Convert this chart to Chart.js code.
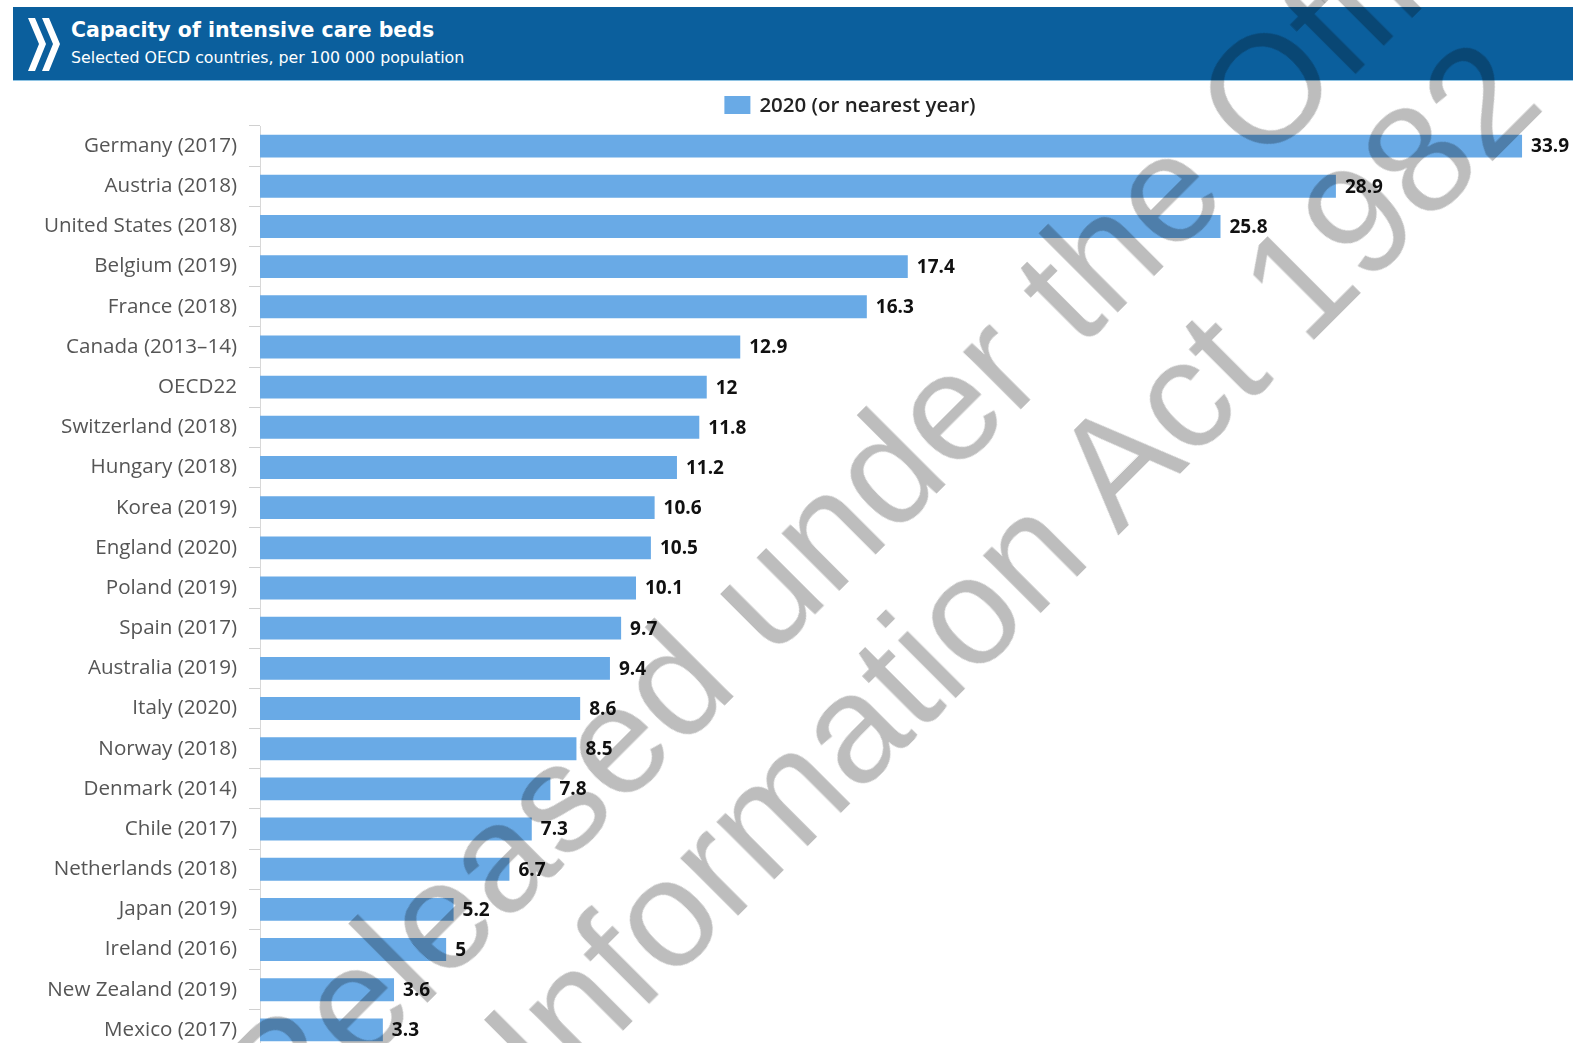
<!DOCTYPE html>
<html>
<head>
<meta charset="utf-8">
<title>Capacity of intensive care beds</title>
<script src="https://cdn.jsdelivr.net/npm/chart.js@4.4.1/dist/chart.umd.min.js"></script>
<style>
  html, body { margin: 0; padding: 0; width: 1573px; height: 1043px; overflow: hidden; background: #fff; }
  body { position: relative; font-family: "Open Sans", sans-serif; }
  .header {
    position: absolute; left: 13px; top: 7px; width: 1560px; height: 73px;
    background: #0b5f9d; border-bottom: 1px solid #8ec3e3;
  }
  .header svg { position: absolute; left: 15px; top: 10px; }
  .header .title {
    position: absolute; left: 58px; top: 11px; color: #fff;
    font: 700 20.5px "DejaVu Sans", sans-serif; white-space: nowrap;
  }
  .header .subtitle {
    position: absolute; left: 58px; top: 41px; color: #fff;
    font: 400 15.8px "DejaVu Sans", sans-serif; white-space: nowrap;
  }
  .chart-wrap { position: absolute; left: 0; top: 81px; width: 1573px; height: 970px; }
  .stamp {
    position: absolute; width: 2400px; height: 316px;
    left: -245px; top: 354px;
    transform: rotate(-45deg); transform-origin: 50% 50%;
    font: 400 154px "Liberation Sans", Arial, sans-serif; line-height: 158px;
    text-align: center; white-space: nowrap; color: rgba(0, 0, 0, 0.26);
    pointer-events: none;
  }
</style>
</head>
<body>
<div class="header">
  <svg width="36" height="56" viewBox="0 0 36 56">
    <polygon points="0,1 7,1 18,27 7,54 0,54 11,27" fill="#fff"/>
    <polygon points="14,1 21,1 32,27 21,54 14,54 25,27" fill="#fff"/>
  </svg>
  <div class="title">Capacity of intensive care beds</div>
  <div class="subtitle">Selected OECD countries, per 100 000 population</div>
</div>
<div class="chart-wrap"><canvas id="icuChart" width="1573" height="970"></canvas></div>
<div class="stamp">Released under the Official<br>Information Act 1982</div>

<script>
// ICU beds per 100 000 population, latest year available per country
const countries = [
  'Germany (2017)', 'Austria (2018)', 'United States (2018)', 'Belgium (2019)',
  'France (2018)', 'Canada (2013–14)', 'OECD22', 'Switzerland (2018)',
  'Hungary (2018)', 'Korea (2019)', 'England (2020)', 'Poland (2019)',
  'Spain (2017)', 'Australia (2019)', 'Italy (2020)', 'Norway (2018)',
  'Denmark (2014)', 'Chile (2017)', 'Netherlands (2018)', 'Japan (2019)',
  'Ireland (2016)', 'New Zealand (2019)', 'Mexico (2017)'
];
const bedsPer100k = [
  33.9, 28.9, 25.8, 17.4, 16.3, 12.9, 12, 11.8, 11.2, 10.6, 10.5, 10.1,
  9.7, 9.4, 8.6, 8.5, 7.8, 7.3, 6.7, 5.2, 5, 3.6, 3.3
];
const seriesLabel = '2020 (or nearest year)';

const BAR_BLUE = '#69aae6';
const LEGEND_CENTER_X = 850;
const LEGEND_Y = 24;

// value printed just past the end of each bar
const valueLabels = {
  id: 'valueLabels',
  afterDatasetsDraw(chart) {
    const { ctx } = chart;
    const meta = chart.getDatasetMeta(0);
    ctx.save();
    ctx.font = '700 19px "Open Sans", sans-serif';
    ctx.fillStyle = '#111';
    ctx.textAlign = 'left';
    ctx.textBaseline = 'middle';
    meta.data.forEach((bar, i) => {
      ctx.fillText(String(bedsPer100k[i]), bar.x + 9, bar.y + 1);
    });
    ctx.restore();
  }
};

// single-series key above the plot, off-centre like the source layout
const seriesKey = {
  id: 'seriesKey',
  afterDraw(chart) {
    const { ctx } = chart;
    const ds = chart.data.datasets[0];
    ctx.save();
    ctx.font = '600 20.5px "Open Sans", sans-serif';
    const boxW = 26, boxH = 18, gap = 9;
    const w = boxW + gap + ctx.measureText(ds.label).width;
    const x0 = LEGEND_CENTER_X - w / 2;
    ctx.fillStyle = ds.backgroundColor;
    ctx.fillRect(x0, LEGEND_Y - boxH / 2, boxW, boxH);
    ctx.fillStyle = '#222';
    ctx.textBaseline = 'middle';
    ctx.fillText(ds.label, x0 + boxW + gap, LEGEND_Y + 1);
    ctx.restore();
  }
};

new Chart(document.getElementById('icuChart'), {
  type: 'bar',
  data: {
    labels: countries,
    datasets: [{
      label: seriesLabel,
      data: bedsPer100k,
      backgroundColor: BAR_BLUE,
      borderWidth: 0,
      categoryPercentage: 1,
      barPercentage: 0.57
    }]
  },
  options: {
    indexAxis: 'y',
    responsive: false,
    animation: false,
    layout: { padding: { left: 0, right: 10, top: 45, bottom: 1 } },
    plugins: {
      legend: { display: false },
      tooltip: { enabled: false }
    },
    scales: {
      x: { display: false, min: 0, max: 35 },
      y: {
        afterFit(scale) {
          scale.width = 260;
          scale.paddingTop = 0;
          scale.paddingBottom = 0;
        },
        grid: { offset: true, drawOnChartArea: false, drawTicks: true, tickLength: 11, color: '#d0d0d0' },
        border: { display: true, color: '#d8d8d8' },
        ticks: {
          color: '#555',
          padding: 12,
          font: { family: '"Open Sans", sans-serif', size: 20.6 }
        }
      }
    }
  },
  plugins: [valueLabels, seriesKey]
});
</script>
</body>
</html>
